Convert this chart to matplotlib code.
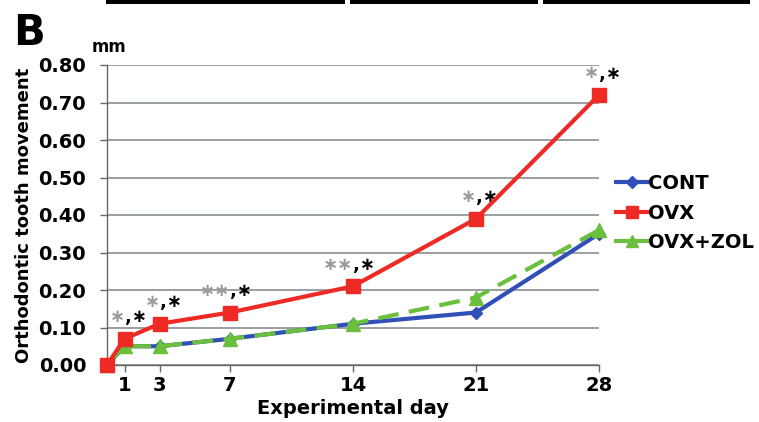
import matplotlib
matplotlib.use("Agg")
import matplotlib.pyplot as plt
from matplotlib.lines import Line2D
from matplotlib.patches import Rectangle

days = [0, 1, 3, 7, 14, 21, 28]
cont = [0.0, 0.05, 0.05, 0.07, 0.11, 0.14, 0.35]
ovx = [0.0, 0.07, 0.11, 0.14, 0.21, 0.39, 0.72]
ovx_zol = [0.0, 0.05, 0.05, 0.07, 0.11, 0.18, 0.36]
xticks = [1, 3, 7, 14, 21, 28]
yticks = [0.0, 0.1, 0.2, 0.3, 0.4, 0.5, 0.6, 0.7, 0.8]
# significance marks above OVX (gray part, black part)
sig_days = [1, 3, 7, 14, 21, 28]
sig_gray = ["∗", "∗", "∗∗", "∗∗", "∗", "∗"]

plt.rcParams['font.family'] = ['DejaVu Sans']
plt.rcParams['font.weight'] = 'bold'

blue = '#3050b8'
red = '#ee2a24'
green = '#6abf3c'

fig = plt.figure(figsize=(7.59, 4.22), dpi=100)
ax = fig.add_axes([107/759, 1-365/422, (599-107)/759, 300/422])

ax.plot(days, cont, color=blue, lw=3, marker='D', ms=6, zorder=3, clip_on=False)
ax.plot(days, ovx_zol, color=green, lw=3, ls=(0, (5, 2.5)), marker='^', ms=10, zorder=4, clip_on=False)
ax.plot(days, ovx, color=red, lw=3, marker='s', ms=10, zorder=5, clip_on=False)

ax.set_xlim(0, 28)
ax.set_ylim(0, 0.8)
ax.set_xticks(xticks)
ax.set_yticks(yticks)
ax.set_yticklabels([f"{v:.2f}" for v in yticks])
ax.tick_params(axis='both', labelsize=14, color='#666666', length=5, width=1)
ax.tick_params(axis='x', pad=3)
ax.tick_params(axis='y', pad=10)
ax.yaxis.grid(True, color='#8a8f94', lw=1.2)
ax.set_axisbelow(True)
for s in ['top', 'right']:
    ax.spines[s].set_visible(False)
for s in ['left', 'bottom']:
    ax.spines[s].set_color('#666666')
    ax.spines[s].set_linewidth(1)

ax.set_xlabel('Experimental day', fontsize=14, fontweight='bold', labelpad=3)
ax.set_ylabel('Orthodontic tooth movement', fontsize=13, fontweight='bold', labelpad=4)

for d, g in zip(sig_days, sig_gray):
    y = ovx[days.index(d)]
    ax.annotate(g, (d, y), xytext=(0, 9), textcoords='offset points',
                ha='right', va='bottom', fontsize=13, color='#9a9a9a', fontweight='bold')
    ax.annotate(',∗', (d, y), xytext=(0, 9), textcoords='offset points',
                ha='left', va='bottom', fontsize=13, color='black', fontweight='bold')

handles = [
    Line2D([], [], color=blue, lw=3, marker='D', ms=6),
    Line2D([], [], color=red, lw=3, marker='s', ms=9),
    Line2D([], [], color=green, lw=3, marker='^', ms=9),
]
fig.legend(handles, ['CONT', 'OVX', 'OVX+ZOL'], loc='center left',
           bbox_to_anchor=(616/759, 1-213/422), frameon=False,
           prop={'size': 14, 'weight': 'bold'}, handlelength=1.6,
           handletextpad=0.05, labelspacing=0.55, borderaxespad=0, borderpad=0)

fig.text(13/759, 1-33/422, 'B', fontsize=30, fontweight='bold', va='center', ha='left')
fig.text(92/759, 1-47/422, 'mm', fontsize=12, fontweight='bold', va='center', ha='left')

# partial bars from the panel above
for x0, x1 in [(106, 345), (350, 538), (543, 750)]:
    fig.add_artist(Rectangle((x0/759, 1-4/422), (x1-x0)/759, 4/422,
                             transform=fig.transFigure, color='black', lw=0))

fig.savefig('out.png', dpi=100)
